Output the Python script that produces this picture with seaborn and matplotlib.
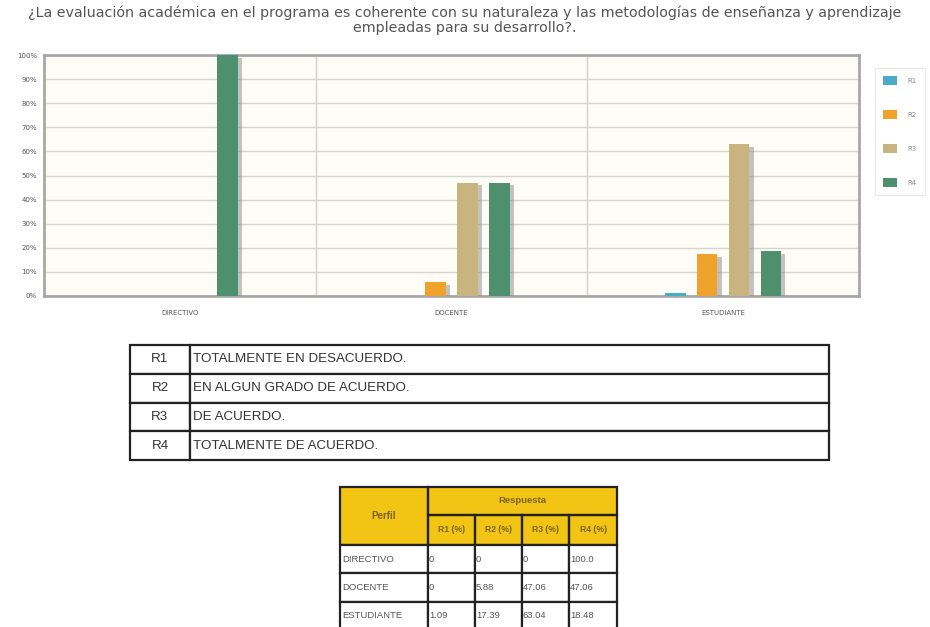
import numpy as np
import pandas as pd
import matplotlib
matplotlib.use("Agg")
import matplotlib.pyplot as plt
import matplotlib.patheffects as pe
from matplotlib.patches import Rectangle
import seaborn as sns

# data
perfiles = ["DIRECTIVO", "DOCENTE", "ESTUDIANTE"]
respuestas = ["R1", "R2", "R3", "R4"]
r1 = [0, 0, 1.09]
r2 = [0, 5.88, 17.39]
r3 = [0, 47.06, 63.04]
r4 = [100.0, 47.06, 18.48]
r1_txt = ["0", "0", "1.09"]
r2_txt = ["0", "5.88", "17.39"]
r3_txt = ["0", "47.06", "63.04"]
r4_txt = ["100.0", "47.06", "18.48"]
descripciones = ["TOTALMENTE EN DESACUERDO.", "EN ALGUN GRADO DE ACUERDO.",
                 "DE ACUERDO.", "TOTALMENTE DE ACUERDO."]
colores = ["#4aacc8", "#f0a32c", "#c8b47e", "#4e8f6e"]
titulo = ("¿La evaluación académica en el programa es coherente con su naturaleza y las metodologías de enseñanza y aprendizaje\n"
          "empleadas para su desarrollo?.")

df = pd.DataFrame({"perfil": perfiles, "R1": r1, "R2": r2, "R3": r3, "R4": r4})
df = df.melt(id_vars="perfil", var_name="resp", value_name="pct")

sns.set_style("white")
plt.rcParams["font.family"] = ["DejaVu Sans"]

W, H = 930, 627
fig = plt.figure(figsize=(W / 100, H / 100), dpi=100)

def px_axes(x0, y0, x1, y1):
    return fig.add_axes([x0 / W, 1 - y1 / H, (x1 - x0) / W, (y1 - y0) / H])

# chart
ax = px_axes(44, 55, 859, 296)
ax.set_facecolor("#fdfcf6")
sns.barplot(data=df, x="perfil", y="pct", hue="resp", order=perfiles,
            hue_order=respuestas, palette=colores, width=0.47, gap=0.36,
            saturation=1, linewidth=0, ax=ax, zorder=3)
ax.set_ylim(0, 100)
ax.set_xlim(-0.5, 2.5)
ax.set_yticks(np.arange(0, 101, 10))
ax.set_yticklabels([f"{v}%" for v in range(0, 101, 10)])
ax.grid(axis="y", color="#d4d4d0", lw=1, zorder=0)
for xb in [0.5, 1.5]:
    ax.axvline(xb, color="#d0d0d0", lw=1, zorder=0)
for s in ax.spines.values():
    s.set_color("#a8a8a8")
    s.set_linewidth(2)
ax.tick_params(axis="y", labelsize=5, colors="#777777", length=3, width=0.8, labelcolor="#555555", pad=2)
ax.tick_params(axis="x", labelsize=5, length=0, labelcolor="#555566", pad=10)
ax.set_xlabel("")
ax.set_ylabel("")
leg = ax.legend(loc="upper left", bbox_to_anchor=(0.0196, 0.946), frameon=True, fontsize=5,
                handlelength=2.0, handleheight=1.6, labelspacing=3.6, borderpad=1.2,
                handletextpad=1.4, borderaxespad=0)
leg.get_frame().set_edgecolor("#e2e2e2")
leg.get_frame().set_linewidth(0.8)
for t in leg.get_texts():
    t.set_color("#888888")
# shadows on the bars only
for p in ax.patches:
    if p.get_height() > 0:
        p.set_path_effects([pe.SimplePatchShadow(offset=(3, -2), shadow_rgbFace="#8a8a8a", alpha=0.5),
                            pe.Normal()])
leg.set_bbox_to_anchor((1.0196, 0.946), transform=ax.transAxes)

fig.text(0.5, 1 - 5 / H, titulo, ha="center", va="top", fontsize=10.3, color="#555555",
         linespacing=1.1)

# legend table
ax_t1 = px_axes(130, 345, 829, 460)
ax_t1.axis("off")
tab1 = ax_t1.table(cellText=[[r, d] for r, d in zip(respuestas, descripciones)],
                   colWidths=[60, 639], cellLoc="left", bbox=[0, 0, 1, 1])
tab1.auto_set_font_size(False)
for (i, j), cell in tab1.get_celld().items():
    cell.set_edgecolor("#222222")
    cell.set_linewidth(1.6)
    cell.get_text().set_fontsize(9.6)
    cell.get_text().set_fontfamily("Liberation Sans")
    cell.get_text().set_color("#333333")
    if j == 0:
        cell.get_text().set_ha("center")
        cell._loc = "center"
    else:
        cell.PAD = 0.004

# data table
ax_t2 = px_axes(340, 487, 617, 630)
ax_t2.axis("off")
ax_t2.add_patch(Rectangle((0, 1 - 58 / 143), 1, 58 / 143, transform=ax_t2.transAxes,
                          facecolor="#f2c414", edgecolor="none", zorder=0))
col_txt = [r1_txt, r2_txt, r3_txt, r4_txt]
rows = [["", "", "", "", ""],
        ["", "R1 (%)", "R2 (%)", "R3 (%)", "R4 (%)"]]
for k, p in enumerate(perfiles):
    rows.append([p] + [c[k] for c in col_txt])
tab2 = ax_t2.table(cellText=rows, colWidths=[88, 47, 47, 47, 48], cellLoc="left",
                   bbox=[0, 0, 1, 1])
tab2.auto_set_font_size(False)
row_h = [28, 30, 28, 29, 28]
for (i, j), cell in tab2.get_celld().items():
    cell.set_height(row_h[i])
    cell.set_edgecolor("#222222")
    cell.set_linewidth(1.6)
    txt = cell.get_text()
    txt.set_fontfamily("Liberation Sans")
    txt.set_fontsize(6.8)
    cell.PAD = 0.02
    if i < 2:
        cell.set_facecolor("none")
        txt.set_color("#7a6414")
        txt.set_fontweight("bold")
        txt.set_fontsize(6.2)
        txt.set_ha("center")
        cell._loc = "center"
    else:
        txt.set_color("#555555")
# merged header cells
tab2[0, 0].visible_edges = "TLR"
tab2[1, 0].visible_edges = "BLR"
tab2[0, 1].visible_edges = "TBL"
tab2[0, 2].visible_edges = "TB"
tab2[0, 3].visible_edges = "TB"
tab2[0, 4].visible_edges = "TBR"
ax_t2.text(44 / 277, 1 - 29 / 143, "Perfil", ha="center", va="center", fontsize=7,
           fontweight="bold", color="#7a6414", family="Liberation Sans", transform=ax_t2.transAxes)
ax_t2.text((88 + 94) / 277, 1 - 14 / 143, "Respuesta", ha="center", va="center", fontsize=6.8,
           fontweight="bold", color="#7a6414", family="Liberation Sans", transform=ax_t2.transAxes)

fig.savefig("out.png", dpi=100, facecolor="white")
